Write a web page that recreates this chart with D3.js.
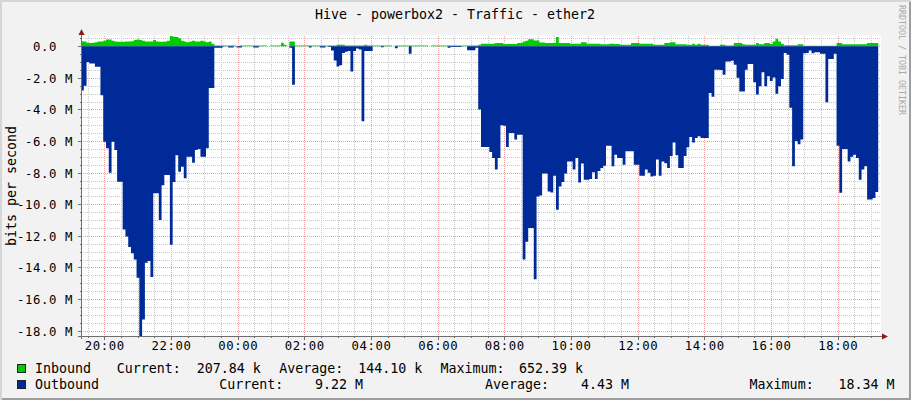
<!DOCTYPE html>
<html><head><meta charset="utf-8">
<script src="https://cdn.jsdelivr.net/npm/d3@7/dist/d3.min.js"></script>
<style>
html,body{margin:0;padding:0;background:#f2f2f2;}
svg text{font-family:"DejaVu Sans Mono",monospace;white-space:pre;}
</style></head>
<body><svg id="chart" width="911" height="400"></svg>
<script>
// ---- data (values in Mbit/s, 5-minute steps starting 19:18) ----
const outboundM = [
 2.8,2.5,1.0,1.1,1.1,1.3,1.3,3.1,6.05,6.45,8.0,6.05,
 6.57,8.57,8.57,11.6,12.05,12.7,13.1,13.5,14.65,18.34,17.3,13.7,
 13.6,14.6,9.3,9.3,11.0,8.8,8.15,8.15,12.57,8.6,6.9,7.94,
 7.62,8.35,7.0,7.0,7.37,6.57,6.5,7.0,7.0,6.45,2.65,2.65,
 0.1,0.1,0.1,0.02,0,0.08,0.08,0,0.08,0.08,0,0,
 0,0,0.08,0.08,0,0,0,0,0,0,0,0,
 0,0,0,0.1,2.43,0,0,0,0,0,0.08,0,
 0,0,0.08,0.08,0,0.05,0.27,0.9,1.28,1.2,0.43,0.35,
 0.3,1.6,0.3,0.15,0.2,4.75,0.3,0.3,0.3,0,0,0,
 0.06,0,0,0,0,0.12,0,0,0,0,0.47,0,
 0,0,0,0,0,0,0,0,0,0,0,0,
 0.1,0.04,0.04,0.04,0.04,0,0,0.25,0.25,0.25,0.1,4.0,
 6.38,6.38,6.38,6.7,7.07,7.8,7.07,5.0,5.03,6.38,5.49,5.49,
 5.9,5.6,5.6,13.5,12.37,11.5,11.5,14.75,9.51,9.45,8.05,8.05,
 9.2,9.25,8.2,10.35,8.87,8.6,8.05,7.29,7.29,7.8,7.07,8.62,
 7.42,8.45,8.45,8.4,7.97,8.4,7.9,7.7,7.56,6.3,6.3,7.6,
 6.86,7.07,7.07,7.5,6.65,6.65,6.65,7.5,7.5,8.2,8.2,7.8,
 8.0,8.25,8.2,7.17,8.2,7.3,7.4,7.7,6.95,6.1,6.9,7.7,
 7.7,6.95,6.4,5.74,6.1,5.8,5.7,5.8,5.8,5.8,2.96,3.2,
 1.49,1.49,1.5,1.8,0.96,0.96,0.92,1.17,2.0,2.86,2.86,1.49,
 1.13,1.13,2.28,3.06,2.54,1.65,2.54,1.9,2.2,1.98,3.0,2.54,
 2.07,0.43,0.54,3.9,7.6,6.0,6.2,5.9,0.45,0.43,0.27,0.45,
 0.38,0.38,0.47,0.47,3.55,0.8,0.8,0.47,6.3,9.28,6.5,6.5,
 7.29,7.0,6.86,7.07,8.45,7.8,7.6,9.7,9.7,9.6,9.22
];
const inboundM = [
 0.32,0.3,0.22,0.2,0.22,0.25,0.3,0.3,0.35,0.42,0.42,0.35,
 0.3,0.28,0.28,0.28,0.3,0.3,0.32,0.4,0.42,0.4,0.35,0.3,
 0.3,0.3,0.4,0.3,0.28,0.28,0.3,0.35,0.65,0.6,0.58,0.5,
 0.35,0.3,0.25,0.3,0.35,0.3,0.3,0.35,0.3,0.25,0.3,0.15,
 0.05,0.04,0.04,0.04,0.04,0.04,0.04,0.04,0,0.04,0.04,0.04,
 0.04,0.04,0.04,0.04,0.04,0.04,0.04,0,0.04,0.04,0.04,0.04,
 0.22,0.1,0,0.3,0.3,0.04,0.04,0.04,0.04,0.04,0.04,0.04,
 0.04,0.04,0.04,0.04,0.04,0.04,0.04,0.04,0.1,0.1,0.1,0.04,
 0.04,0.04,0.04,0.04,0.04,0.04,0.1,0.04,0.04,0.04,0.04,0.04,
 0.04,0.04,0.04,0.04,0,0.04,0.04,0.04,0.04,0.04,0.04,0.04,
 0.04,0.04,0.04,0.04,0.04,0,0.04,0.04,0.04,0.04,0.04,0.04,
 0.04,0.04,0.04,0.04,0.04,0.04,0.04,0.04,0.04,0.04,0.04,0.1,
 0.16,0.16,0.16,0.16,0.16,0.2,0.2,0.2,0.14,0.14,0.14,0.14,
 0.14,0.2,0.2,0.3,0.35,0.45,0.45,0.37,0.37,0.24,0.24,0.2,
 0.2,0.2,0.2,0.58,0.2,0.2,0.2,0.2,0.15,0.15,0.15,0.15,
 0.26,0.26,0.15,0.15,0.15,0.15,0.15,0.12,0.12,0.12,0.16,0.16,
 0.14,0.14,0.1,0.1,0.1,0.1,0.2,0.2,0.2,0.16,0.16,0.16,
 0.16,0.16,0.1,0.1,0.1,0.1,0.2,0.2,0.26,0.26,0.12,0.12,
 0.12,0.12,0.1,0.1,0.16,0.1,0.16,0.1,0.1,0.1,0.03,0.03,
 0.03,0.03,0.1,0.1,0.05,0.05,0.05,0.2,0.2,0.2,0.12,0.1,
 0.1,0.1,0.1,0.2,0.12,0.12,0.2,0.2,0.14,0.3,0.47,0.3,
 0.16,0.06,0.06,0.06,0.06,0.06,0.12,0.12,0.03,0.03,0.03,0.03,
 0.03,0.03,0.03,0.03,0.03,0.03,0.03,0.03,0.2,0.2,0.12,0.12,
 0.12,0.12,0.12,0.12,0.12,0.12,0.12,0.21,0.21,0.21,0.208
];
const yTickValues = [0,-2,-4,-6,-8,-10,-12,-14,-16,-18];
const seriesNames = ["Inbound","Outbound"];
const seriesColors = ["#00CC00","#002A97"];
const statLabels = ["Current:","Average:","Maximum:"];
const inboundStats = ["207.84 k","144.10 k","652.39 k"];
const outboundStats = ["9.22 M","4.43 M","18.34 M"];
const titleText = "Hive - powerbox2 - Traffic - ether2";
const yAxisTitle = "bits per second";
const watermark = "RRDTOOL / TOBI OETIKER";

// ---- layout ----
const svg = d3.select("#chart");
const L = 81, R = 881, T = 35.5, B = 336;
const t0 = new Date(2021, 0, 1, 19, 18);
const t1 = new Date(t0.getTime() + 24*3600*1000);
const stepMs = 5*60*1000;
const x = d3.scaleTime().domain([t0, t1]).range([L, R]);
const y = d3.scaleLinear().domain([-18.34, 0.68]).range([B, T]);

// background & shading
svg.append("rect").attr("width",911).attr("height",400).attr("fill","#f2f2f2");
svg.append("path").attr("d","M0,399 L910,399 L910,0").attr("fill","none").attr("stroke","#9e9e9e").attr("stroke-width",2);
svg.append("path").attr("d","M1,400 L1,1 L911,1").attr("fill","none").attr("stroke","#d6d6d6").attr("stroke-width",2);

// canvas
svg.append("rect").attr("x",L).attr("y",T).attr("width",R-L).attr("height",B-T).attr("fill","#ffffff");

const g = svg.append("g");
const py = v => Math.round(y(v)) + 0.5;
const px = t => Math.round(x(t)) + 0.5;

// minor horizontal grid
const minorY = d3.range(-18, 0.51, 0.5).filter(v => Math.abs(v % 2) > 1e-9);
g.selectAll("line.mny").data(minorY).join("line")
  .attr("x1",L).attr("x2",R).attr("y1",py).attr("y2",py)
  .attr("stroke","#c8c8c8").attr("stroke-dasharray","1,1").attr("shape-rendering","crispEdges");
// minor vertical grid
const minorX = x.ticks(d3.timeMinute.every(30)).filter(t => !(t.getHours()%2===0 && t.getMinutes()===0));
g.selectAll("line.mnx").data(minorX).join("line")
  .attr("x1",px).attr("x2",px).attr("y1",T).attr("y2",B)
  .attr("stroke","#c8c8c8").attr("stroke-dasharray","1,1").attr("shape-rendering","crispEdges");
// major grid
const majorX = x.ticks(d3.timeHour.every(2));
g.selectAll("line.mjx").data(majorX).join("line")
  .attr("x1",px).attr("x2",px).attr("y1",T).attr("y2",B)
  .attr("stroke","#eea3a3").attr("stroke-dasharray","1,1").attr("shape-rendering","crispEdges");
g.selectAll("line.mjy").data(yTickValues).join("line")
  .attr("x1",L).attr("x2",R).attr("y1",py).attr("y2",py)
  .attr("stroke","#eea3a3").attr("stroke-dasharray","1,1").attr("shape-rendering","crispEdges");

// data
function toPoints(arr, sign){
  const pts = arr.map((v,i)=>({t:new Date(t0.getTime()+i*stepMs), v:sign*v}));
  pts.push({t:new Date(t0.getTime()+arr.length*stepMs), v:sign*arr[arr.length-1]});
  return pts;
}
const area = d3.area().curve(d3.curveStepAfter)
  .x(d=>x(d.t)).y0(y(0)).y1(d=>y(d.v));
svg.append("path").datum(toPoints(inboundM, 1)).attr("d",area).attr("fill",seriesColors[0]);
svg.append("path").datum(toPoints(outboundM, -1)).attr("d",area).attr("fill",seriesColors[1]);

// axes
const axisColor = "#6e6e6e";
svg.append("line").attr("x1",L+0.5).attr("x2",L+0.5).attr("y1",32).attr("y2",339).attr("stroke",axisColor).attr("shape-rendering","crispEdges");
svg.append("line").attr("x1",78).attr("x2",884).attr("y1",B+0.5).attr("y2",B+0.5).attr("stroke",axisColor).attr("shape-rendering","crispEdges");
svg.append("path").attr("d",`M${L-2.5},35 L${L+3.5},35 L${L+0.5},29 Z`).attr("fill","#8b1c1c");
svg.append("path").attr("d",`M882,${B-2.5} L882,${B+3.5} L888,${B+0.5} Z`).attr("fill","#8b1c1c");

// tick marks
svg.selectAll("line.ytk").data(d3.range(-18,0.51,0.5)).join("line")
  .attr("x1",d=>Math.abs(d%2)<1e-9?L-3:L-1).attr("x2",L).attr("y1",py).attr("y2",py)
  .attr("stroke",axisColor).attr("shape-rendering","crispEdges");
svg.selectAll("line.xtk").data(x.ticks(d3.timeMinute.every(30))).join("line")
  .attr("x1",px).attr("x2",px).attr("y1",B+1).attr("y2",d=>(d.getMinutes()===0&&d.getHours()%2===0)?B+4:B+2)
  .attr("stroke",axisColor).attr("shape-rendering","crispEdges");

// y labels
const yAxis = d3.axisLeft(y).tickValues(yTickValues).tickSize(0).tickPadding(0)
  .tickFormat(v => v===0 ? "0.0\u00a0\u00a0" : v.toFixed(1)+" M");
const ya = svg.append("g").attr("transform","translate(73,0)").call(yAxis);
ya.select(".domain").remove();
ya.selectAll("text").attr("font-family","DejaVu Sans Mono").attr("font-size","12.3px")
  .attr("letter-spacing","0.6px").attr("fill","#000").attr("dy","0.36em");

// x labels
const xAxis = d3.axisBottom(x).ticks(d3.timeHour.every(2)).tickSize(0).tickPadding(0)
  .tickFormat(d3.timeFormat("%H:%M"));
const xa = svg.append("g").attr("transform","translate(0,341)").call(xAxis);
xa.select(".domain").remove();
xa.selectAll("text").attr("font-family","DejaVu Sans Mono").attr("font-size","12.3px")
  .attr("letter-spacing","0.6px").attr("fill","#000").attr("dy","0.77em");

// title
svg.append("text").attr("x",455).attr("y",19.3).attr("text-anchor","middle")
  .attr("font-size","13.3px").attr("fill","#000").text(titleText);
// y axis title
svg.append("text").attr("transform","translate(16,186) rotate(-90)").attr("text-anchor","middle")
  .attr("font-size","13.3px").attr("fill","#000").text(yAxisTitle);
// watermark
svg.append("text").attr("transform","translate(899,5) rotate(90)")
  .attr("font-size","8.3px").attr("fill","#a8a8a8").text(watermark);

// legend
const rows = [
  {name:seriesNames[0], color:seriesColors[0], stats:inboundStats, yb:373, ys:364.5,
   pos:[116.7,196.7,279.3,358.3,440.4,519]},
  {name:seriesNames[1], color:seriesColors[1], stats:outboundStats, yb:389, ys:380.5,
   pos:[219.3,315,485,581,749.6,838.5]}
];
rows.forEach(r=>{
  svg.append("rect").attr("x",17.5).attr("y",r.ys).attr("width",8).attr("height",8)
    .attr("fill",r.color).attr("stroke","#222").attr("stroke-width",1);
  svg.append("text").attr("x",35).attr("y",r.yb).attr("font-size","13.3px").text(r.name);
  statLabels.forEach((lab,k)=>{
    svg.append("text").attr("x",r.pos[2*k]).attr("y",r.yb).attr("font-size","13.3px").text(lab);
    svg.append("text").attr("x",r.pos[2*k+1]).attr("y",r.yb).attr("font-size","13.3px").text(r.stats[k]);
  });
});
</script></body></html>
